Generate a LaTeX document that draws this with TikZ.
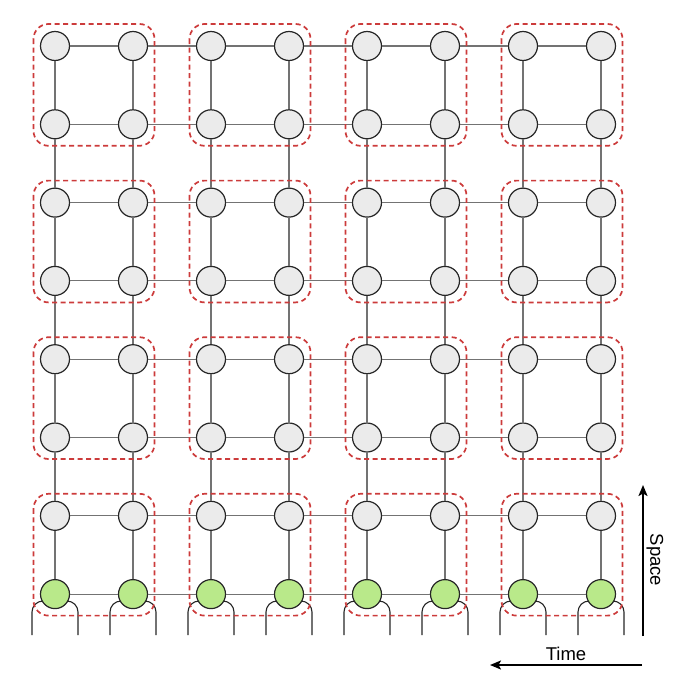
\documentclass[tikz,border=0pt]{standalone}
\usepackage{fontspec}
\setmainfont{Liberation Sans}
\usetikzlibrary{arrows.meta,calc,positioning}
\definecolor{cellgray}{HTML}{EBEBEB}
\definecolor{cellgreen}{HTML}{B9E98A}
\definecolor{blockred}{HTML}{CC3B3B}
\tikzset{
  cell/.style={circle,draw=black!85,line width=1.2pt,fill=cellgray,minimum size=29pt,inner sep=0pt},
  input/.style={cell,fill=cellgreen},
  link/.style={draw=black!55,line width=1.1pt},
  leg/.style={draw=black!85,line width=1.1pt,rounded corners=11pt},
  block/.style={draw=blockred,line width=1.7pt,dash pattern=on 5pt off 3.5pt,rounded corners=15pt},
  axis/.style={line width=2pt,-{Stealth[length=11pt,width=9pt,inset=2.5pt]}},
}

\begin{document}
\begin{tikzpicture}[x=1pt,y=-1pt,font=\fontsize{18.5}{20}\selectfont]
  \useasboundingbox (0,0) rectangle (673,680);

  % legs under the input row
  \foreach \c in {0,...,7}{
    \pgfmathsetmacro{\xx}{55+78*\c}
    \draw[leg] (\xx-23,635) -- (\xx-23,601) -- (\xx+23,601) -- (\xx+23,635);
  }

  % grid of cells, bottom row is the input
  \foreach \c in {0,...,7}
    \foreach \r/\kind in {0/cell,1/cell,2/cell,3/cell,4/cell,5/cell,6/cell,7/input}
      \node[\kind] (n-\c-\r) at ({55+78*\c},{46+78.3*\r}) {};

  % links between neighbours
  \foreach \c [evaluate=\c as \cn using int(\c+1)] in {0,...,6}
    \foreach \r in {0,...,7}{
      \draw[link] (n-\c-\r) -- (n-\cn-\r);
      \draw[link] (n-\r-\c) -- (n-\r-\cn);
    }

  % dashed 2x2 blocks
  \foreach \ca/\cb in {0/1,2/3,4/5,6/7}
    \foreach \ra/\rb in {0/1,2/3,4/5,6/7}
      \draw[block] ($(n-\ca-\ra)+(-21.5,-22)$) rectangle ($(n-\cb-\rb)+(21.5,21.5)$);

  % axes
  \coordinate (space-tail) at (643,636);
  \coordinate (space-head) at (643,485);
  \coordinate (time-tail) at (642,665);
  \coordinate (time-head) at (490,665);
  \draw[axis] (space-tail) -- (space-head);
  \draw[axis] (time-tail) -- (time-head);
  \node[rotate=-90] (space) at (655,560) {Space};
  \node (time) at (566,653.5) {Time};
\end{tikzpicture}
\end{document}
